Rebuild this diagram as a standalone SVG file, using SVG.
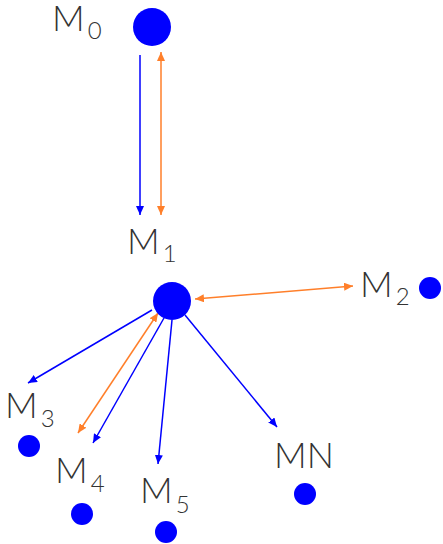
<svg xmlns="http://www.w3.org/2000/svg" width="443" height="544" viewBox="0 0 443 544">
<style>
.node{fill:#0000ff}
.lbl{font-family:Lato,"Open Sans","DejaVu Sans",sans-serif;font-weight:300;font-size:36px;fill:#333333}
.sub{font-size:24px}
.b{stroke:#0000ff;stroke-width:1.5;fill:none;marker-end:url(#ab)}
.o{stroke:#ff7f2a;stroke-width:1.5;fill:none;marker-end:url(#ao);marker-start:url(#ao)}
</style>
<defs>
<marker id="ab" markerUnits="userSpaceOnUse" markerWidth="10" markerHeight="8" refX="9" refY="4" orient="auto-start-reverse"><path d="M0,0 L9,4 L0,8 z" fill="#0000ff"/></marker>
<marker id="ao" markerUnits="userSpaceOnUse" markerWidth="10" markerHeight="8" refX="9" refY="4" orient="auto-start-reverse"><path d="M0,0 L9,4 L0,8 z" fill="#ff7f2a"/></marker>
</defs>
<g id="connectors">
<line class="b" x1="140" y1="55" x2="140" y2="215"/>
<line class="o" x1="161" y1="52" x2="161" y2="215"/>
<line class="o" x1="195" y1="299" x2="353" y2="286"/>
<line class="b" x1="152" y1="310" x2="28" y2="383"/>
<line class="o" x1="158" y1="313" x2="78" y2="433"/>
<line class="b" x1="164" y1="318" x2="93" y2="443"/>
<line class="b" x1="172" y1="320" x2="158" y2="464"/>
<line class="b" x1="185" y1="315" x2="277" y2="427"/>
</g>
<g id="M0"><circle class="node" cx="152" cy="27" r="19"/><text class="lbl" x="52" y="31">M<tspan class="sub" dx="3" dy="8">0</tspan></text></g>
<g id="M1"><circle class="node" cx="172" cy="301" r="19"/><text class="lbl" x="127" y="254">M<tspan class="sub" dx="3" dy="8">1</tspan></text></g>
<g id="M2"><circle class="node" cx="430" cy="288" r="11"/><text class="lbl" x="360" y="297">M<tspan class="sub" dx="3" dy="8">2</tspan></text></g>
<g id="M3"><circle class="node" cx="29" cy="446" r="11"/><text class="lbl" x="5" y="418">M<tspan class="sub" dx="3" dy="9">3</tspan></text></g>
<g id="M4"><circle class="node" cx="82" cy="514" r="11"/><text class="lbl" x="55" y="483">M<tspan class="sub" dx="3" dy="9">4</tspan></text></g>
<g id="M5"><circle class="node" cx="166" cy="532" r="11"/><text class="lbl" x="140" y="503">M<tspan class="sub" dx="3" dy="10">5</tspan></text></g>
<g id="MN"><circle class="node" cx="305" cy="494" r="11"/><text class="lbl" x="274" y="468">MN</text></g>
</svg>
